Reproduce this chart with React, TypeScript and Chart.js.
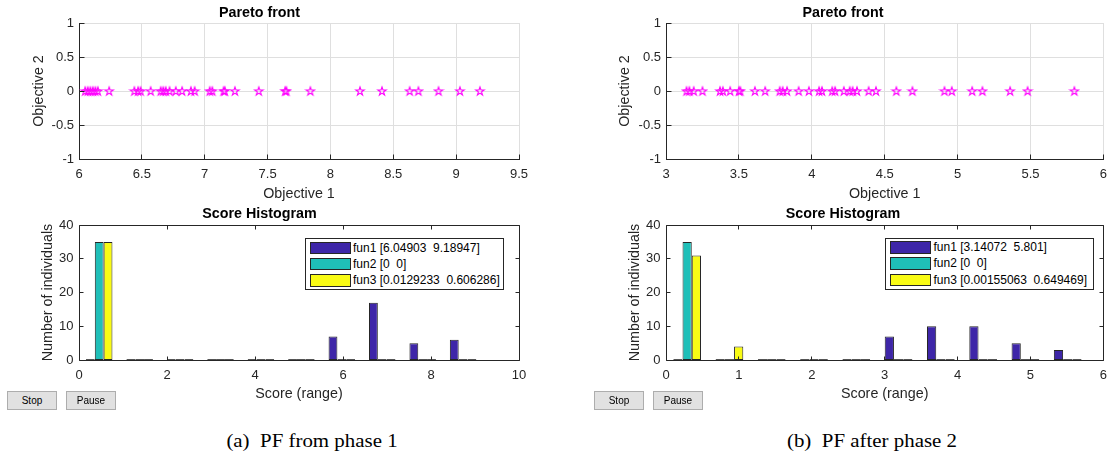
import React, { useEffect, useRef } from 'react';
import { Chart, registerables } from 'chart.js';

Chart.register(...registerables);

const FONT = "'Liberation Sans', Arial, Helvetica, sans-serif";
const SERIF = "'Liberation Serif', 'Times New Roman', serif";
const AXIS_COLOR = '#262626';
const GRID_COLOR = '#dfdfdf';
const MAGENTA = '#ff00ff';
const FUN1_COLOR = '#3e26a8';
const FUN2_COLOR = '#1fbfb8';
const FUN3_COLOR = '#f9fb14';

// ---------- Panel (a): PF from phase 1 ----------
const paretoA_obj1 = [
  6.049, 6.07, 6.09, 6.11, 6.13, 6.15, 6.24, 6.44, 6.47, 6.49, 6.57, 6.65,
  6.67, 6.69, 6.72, 6.77, 6.82, 6.89, 6.92, 7.04, 7.06, 7.15, 7.16, 7.24,
  7.43, 7.64, 7.65, 7.84, 8.235, 8.41, 8.63, 8.7, 8.86, 9.03, 9.189,
];
const paretoA_obj2 = [
  0, 0, 0, 0, 0, 0, 0, 0, 0, 0, 0, 0, 0, 0, 0, 0, 0, 0, 0, 0, 0, 0, 0, 0,
  0, 0, 0, 0, 0, 0, 0, 0, 0, 0, 0,
];
const paretoA_xTicks = [6, 6.5, 7, 7.5, 8, 8.5, 9, 9.5];
const pareto_yTicks = [-1, -0.5, 0, 0.5, 1];

const histA_binCenters = [0.4595, 1.3784, 2.2973, 3.2162, 4.1351, 5.0541, 5.973, 6.8919, 7.8108, 8.7297];
const histA_fun1 = [0, 0, 0, 0, 0, 0, 7, 17, 5, 6];
const histA_fun2 = [35, 0, 0, 0, 0, 0, 0, 0, 0, 0];
const histA_fun3 = [35, 0, 0, 0, 0, 0, 0, 0, 0, 0];
const histA_xTicks = [0, 2, 4, 6, 8, 10];
const hist_yTicks = [0, 10, 20, 30, 40];
const legendA_labels = ['fun1 [6.04903  9.18947]', 'fun2 [0  0]', 'fun3 [0.0129233  0.606286]'];

// ---------- Panel (b): PF after phase 2 ----------
const paretoB_obj1 = [
  3.141, 3.16, 3.19, 3.25, 3.37, 3.39, 3.44, 3.5, 3.51, 3.61, 3.68, 3.78,
  3.8, 3.83, 3.91, 3.98, 4.05, 4.07, 4.14, 4.16, 4.22, 4.26, 4.28, 4.31,
  4.39, 4.44, 4.58, 4.69, 4.91, 4.96, 5.1, 5.17, 5.36, 5.48, 5.801,
];
const paretoB_obj2 = [
  0, 0, 0, 0, 0, 0, 0, 0, 0, 0, 0, 0, 0, 0, 0, 0, 0, 0, 0, 0, 0, 0, 0, 0,
  0, 0, 0, 0, 0, 0, 0, 0, 0, 0, 0,
];
const paretoB_xTicks = [3, 3.5, 4, 4.5, 5, 5.5, 6];

const histB_binCenters = [0.2901, 0.8702, 1.4502, 2.0303, 2.6103, 3.1904, 3.7704, 4.3505, 4.9305, 5.5106];
const histB_fun1 = [0, 0, 0, 0, 0, 7, 10, 10, 5, 3];
const histB_fun2 = [35, 0, 0, 0, 0, 0, 0, 0, 0, 0];
const histB_fun3 = [31, 4, 0, 0, 0, 0, 0, 0, 0, 0];
const histB_xTicks = [0, 1, 2, 3, 4, 5, 6];
const legendB_labels = ['fun1 [3.14072  5.801]', 'fun2 [0  0]', 'fun3 [0.00155063  0.649469]'];

const seriesColors = [FUN1_COLOR, FUN2_COLOR, FUN3_COLOR];

function alignPx(p: number) {
  return Math.round(p - 0.5) + 0.5;
}

const matlabAxes = {
  id: 'matlabAxes',
  afterDatasetsDraw(chart: any, _args: any, opts: any) {
    const { ctx, chartArea: a } = chart;
    const xs = chart.scales.x;
    const ys = chart.scales.y;
    const len = opts.tickLen ?? 4;
    const L = alignPx(a.left), R = alignPx(a.right), T = alignPx(a.top), B = alignPx(a.bottom);
    ctx.save();
    ctx.strokeStyle = AXIS_COLOR;
    ctx.lineWidth = 1;
    ctx.beginPath();
    if (opts.box) ctx.rect(L, T, R - L, B - T);
    for (const t of xs.ticks) {
      const px = alignPx(xs.getPixelForValue(t.value));
      ctx.moveTo(px, B);
      ctx.lineTo(px, B - len);
      if (opts.box) {
        ctx.moveTo(px, T);
        ctx.lineTo(px, T + len);
      }
    }
    for (const t of ys.ticks) {
      const py = alignPx(ys.getPixelForValue(t.value));
      ctx.moveTo(L, py);
      ctx.lineTo(L + len, py);
      if (opts.box) {
        ctx.moveTo(R, py);
        ctx.lineTo(R - len, py);
      }
    }
    ctx.stroke();
    ctx.restore();
  },
};

function makePentagram(color: string, R: number): HTMLCanvasElement {
  const size = 12;
  const c = document.createElement('canvas');
  c.width = size;
  c.height = size;
  const g = c.getContext('2d')!;
  const cx = size / 2;
  const cy = size / 2 + 0.4;
  g.beginPath();
  for (let k = 0; k < 10; k++) {
    const ang = -Math.PI / 2 + (k * Math.PI) / 5;
    const r = k % 2 === 0 ? R : R * 0.382;
    const x = cx + r * Math.cos(ang);
    const y = cy + r * Math.sin(ang);
    if (k === 0) g.moveTo(x, y);
    else g.lineTo(x, y);
  }
  g.closePath();
  g.strokeStyle = color;
  g.lineWidth = 1.1;
  g.stroke();
  return c;
}

type Geo = {
  yW: number; padRight: number; xH: number;
  titlePadTop: number; titlePadBottom: number;
  xTitlePad: number; yTitlePad: number; yTickPad: number; xTickPad: number;
};

function titleOpts(text: string, g: Geo) {
  return {
    display: true,
    text,
    color: '#000',
    font: { family: FONT, size: 14.3, weight: 'bold', lineHeight: 1.2 },
    padding: { top: g.titlePadTop, bottom: g.titlePadBottom },
  };
}

function axisOpts(kind: 'x' | 'y', ticksArr: number[], label: string, g: Geo, grid: boolean) {
  return {
    type: 'linear',
    min: ticksArr[0],
    max: ticksArr[ticksArr.length - 1],
    offset: false,
    afterBuildTicks: (s: any) => {
      s.ticks = ticksArr.map((v) => ({ value: v }));
    },
    afterFit: (s: any) => {
      if (kind === 'x') s.height = g.xH;
      else s.width = g.yW;
    },
    grid: grid
      ? { display: true, color: GRID_COLOR, drawTicks: false, offset: false }
      : { display: false, drawTicks: false, offset: false },
    border: grid ? { display: true, color: AXIS_COLOR, width: 1 } : { display: false },
    ticks: {
      color: AXIS_COLOR,
      font: { family: FONT, size: 13, lineHeight: 1.2 },
      padding: kind === 'x' ? g.xTickPad : g.yTickPad,
      maxRotation: 0,
      minRotation: 0,
      autoSkip: false,
      callback: (v: any) => String(v),
    },
    title: {
      display: true,
      text: label,
      color: AXIS_COLOR,
      font: { family: FONT, size: 14.3, lineHeight: 1.2 },
      padding: kind === 'x' ? { top: 0, bottom: g.xTitlePad } : { top: g.yTitlePad, bottom: 0 },
    },
  };
}

function paretoConfig(obj1: number[], obj2: number[], xTicks: number[], g: Geo, star: HTMLCanvasElement): any {
  return {
    type: 'scatter',
    data: {
      datasets: [
        {
          label: 'Pareto front',
          data: obj1.map((v, i) => ({ x: v, y: obj2[i] })),
          pointStyle: star,
          pointRadius: 4,
          pointHoverRadius: 4,
          borderColor: MAGENTA,
          backgroundColor: MAGENTA,
          showLine: false,
        },
      ],
    },
    options: {
      animation: false,
      responsive: false,
      maintainAspectRatio: false,
      events: [],
      layout: { padding: { left: 0, top: 0, right: g.padRight, bottom: 0 } },
      plugins: {
        legend: { display: false },
        tooltip: { enabled: false },
        title: titleOpts('Pareto front', g),
        matlabAxes: { box: false, tickLen: 5 },
      },
      scales: {
        x: axisOpts('x', xTicks, 'Objective 1', g, true),
        y: axisOpts('y', pareto_yTicks, 'Objective 2', g, true),
      },
    },
    plugins: [matlabAxes],
  };
}

function histConfig(centers: number[], series: number[][], labels: string[], xTicks: number[], g: Geo): any {
  return {
    type: 'bar',
    data: {
      datasets: series.map((vals, si) => ({
        label: labels[si],
        data: centers.map((c, i) => ({ x: c, y: vals[i] })),
        backgroundColor: (ctx: any) => (ctx.raw && ctx.raw.y === 0 ? '#555' : seriesColors[si]),
        borderColor: (ctx: any) => (ctx.raw && ctx.raw.y === 0 ? '#555' : AXIS_COLOR),
        borderWidth: 1,
        borderSkipped: false,
        minBarLength: 1,
        categoryPercentage: 0.655,
        barPercentage: 1.0,
      })),
    },
    options: {
      animation: false,
      responsive: false,
      maintainAspectRatio: false,
      events: [],
      layout: { padding: { left: 0, top: 0, right: g.padRight, bottom: 0 } },
      plugins: {
        legend: { display: false },
        tooltip: { enabled: false },
        title: titleOpts('Score Histogram', g),
        matlabAxes: { box: true, tickLen: 4 },
      },
      scales: {
        x: axisOpts('x', xTicks, 'Score (range)', g, false),
        y: axisOpts('y', hist_yTicks, 'Number of individuals', g, false),
      },
    },
    plugins: [matlabAxes],
  };
}

function ChartBox(props: { left: number; top: number; width: number; height: number; make: () => any }) {
  const ref = useRef<HTMLCanvasElement | null>(null);
  useEffect(() => {
    if (!ref.current) return;
    const chart = new Chart(ref.current, props.make());
    return () => chart.destroy();
  }, []);
  return (
    <canvas
      ref={ref}
      width={props.width}
      height={props.height}
      style={{ position: 'absolute', left: props.left, top: props.top, width: props.width, height: props.height }}
    />
  );
}

function Legend(props: { left: number; top: number; width: number; height: number; labels: string[] }) {
  const rows = props.labels.map((lab, i) => (
    <React.Fragment key={i}>
      <div
        style={{
          position: 'absolute',
          left: 4,
          top: 2.5 + i * 16.3,
          width: 41,
          height: 12.5,
          boxSizing: 'border-box',
          border: '1px solid ' + AXIS_COLOR,
          background: seriesColors[i],
        }}
      />
      <div
        style={{
          position: 'absolute',
          left: 47.5,
          top: 2.5 + i * 16.3,
          height: 12.5,
          lineHeight: '12.5px',
          fontFamily: FONT,
          fontSize: 12,
          color: '#000',
          whiteSpace: 'pre',
        }}
      >
        {lab}
      </div>
    </React.Fragment>
  ));
  return (
    <div
      style={{
        position: 'absolute',
        left: props.left,
        top: props.top,
        width: props.width,
        height: props.height,
        boxSizing: 'border-box',
        border: '1px solid ' + AXIS_COLOR,
        background: '#fff',
      }}
    >
      {rows}
    </div>
  );
}

function Btn(props: { left: number; top: number; text: string }) {
  return (
    <div
      style={{
        position: 'absolute',
        left: props.left,
        top: props.top,
        width: 50,
        height: 19,
        boxSizing: 'border-box',
        border: '1px solid #adadad',
        background: '#e1e1e1',
        fontFamily: FONT,
        fontSize: 10,
        lineHeight: '17px',
        textAlign: 'center',
        color: '#000',
      }}
    >
      {props.text}
    </div>
  );
}

function Caption(props: { cx: number; top: number; text: string }) {
  return (
    <div
      style={{
        position: 'absolute',
        left: props.cx,
        top: props.top,
        fontFamily: SERIF,
        fontSize: 19,
        whiteSpace: 'pre',
        color: '#000',
        transform: 'translateX(-50%) scaleX(1.1)',
      }}
    >
      {props.text}
    </div>
  );
}

const geoA1: Geo = { yW: 79, padRight: 21, xH: 46, titlePadTop: 4.8, titlePadBottom: 1.04, xTitlePad: 2.7, yTitlePad: 30.1, yTickPad: 5, xTickPad: 8 };
const geoA2: Geo = { yW: 79, padRight: 21, xH: 43, titlePadTop: 7.42, titlePadBottom: 2.42, xTitlePad: 0.42, yTitlePad: 39.1, yTickPad: 5.5, xTickPad: 8 };
const geoB1: Geo = { yW: 86, padRight: 9, xH: 46, titlePadTop: 4.8, titlePadBottom: 1.04, xTitlePad: 2.7, yTitlePad: 36.7, yTickPad: 5, xTickPad: 8 };
const geoB2: Geo = { yW: 86, padRight: 9, xH: 43, titlePadTop: 7.42, titlePadBottom: 2.42, xTitlePad: 0.42, yTitlePad: 46.1, yTickPad: 5.5, xTickPad: 8 };

export default function App() {
  return (
    <div style={{ position: 'absolute', left: 0, top: 0, width: 1115, height: 456, background: '#fff', overflow: 'hidden' }}>
      <ChartBox left={0} top={0} width={540} height={205}
        make={() => paretoConfig(paretoA_obj1, paretoA_obj2, paretoA_xTicks, geoA1, makePentagram(MAGENTA, 4.4))} />
      <ChartBox left={0} top={198} width={540} height={205}
        make={() => histConfig(histA_binCenters, [histA_fun1, histA_fun2, histA_fun3], legendA_labels, histA_xTicks, geoA2)} />
      <ChartBox left={580} top={0} width={535} height={205}
        make={() => paretoConfig(paretoB_obj1, paretoB_obj2, paretoB_xTicks, geoB1, makePentagram(MAGENTA, 4.4))} />
      <ChartBox left={580} top={198} width={535} height={205}
        make={() => histConfig(histB_binCenters, [histB_fun1, histB_fun2, histB_fun3], legendB_labels, histB_xTicks, geoB2)} />

      <Legend left={304.5} top={238} width={199} height={51.5} labels={legendA_labels} />
      <Legend left={885} top={237.5} width={208.5} height={52} labels={legendB_labels} />

      <Btn left={7} top={391} text="Stop" />
      <Btn left={66} top={391} text="Pause" />
      <Btn left={594} top={391} text="Stop" />
      <Btn left={653} top={391} text="Pause" />

      <Caption cx={311.7} top={430} text="(a)  PF from phase 1" />
      <Caption cx={872} top={430} text="(b)  PF after phase 2" />
    </div>
  );
}
